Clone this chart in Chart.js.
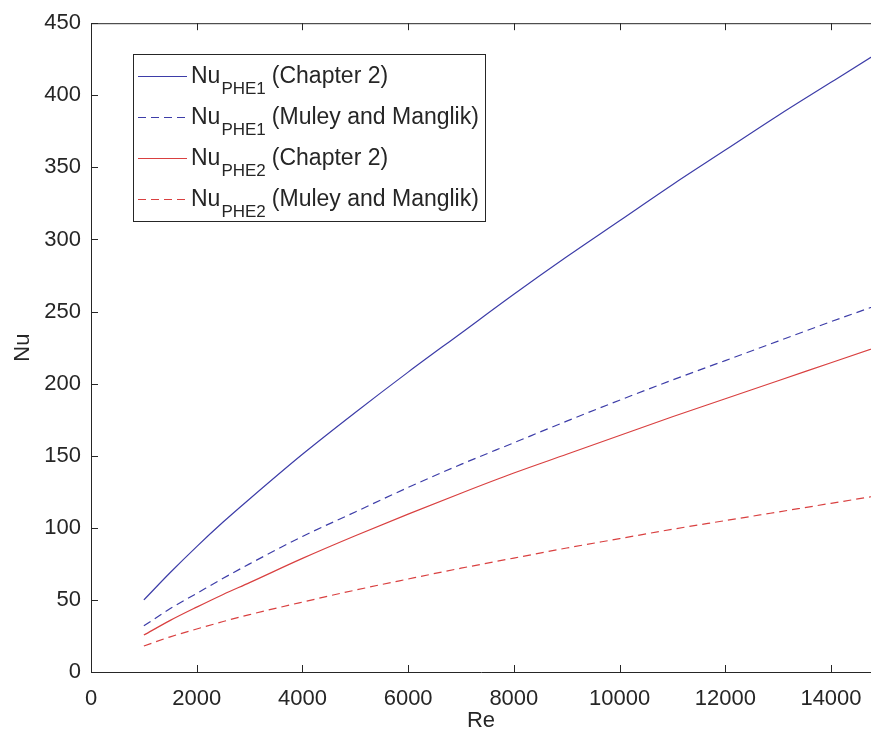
<!DOCTYPE html>
<html>
<head>
<meta charset="utf-8">
<title>Nu vs Re</title>
<script src="https://cdn.jsdelivr.net/npm/chart.js@4.4.1/dist/chart.umd.min.js"></script>
<style>
  html, body { margin: 0; padding: 0; background: #fff; }
  #wrap { width: 871px; height: 742px; position: relative; }
</style>
</head>
<body>
<div id="wrap"><canvas id="nuChart"></canvas></div>
<script>
// Reynolds numbers where the correlations were evaluated
const reValues = [1000, 1500, 2000, 2500, 3000, 4000, 5000, 6000, 7000, 8000, 9000, 10000, 11000, 12000, 13000, 14000, 15000];

// Nusselt number for each plate heat exchanger / correlation
const nuPhe1Chapter2 = [50, 69, 87, 104, 120, 151, 180, 208, 235, 262, 288, 313, 338, 362, 386, 409, 432];
const nuPhe1Muley    = [32, 44, 54.5, 65, 75, 94, 111, 128, 144, 159, 174, 188.5, 202.5, 216, 229.5, 243, 256];
const nuPhe2Chapter2 = [25.6, 35.8, 45, 53.8, 62, 78.8, 94.5, 109.5, 124, 138, 151, 164, 177, 189.5, 202, 214.5, 227];
const nuPhe2Muley    = [18, 24.4, 29.8, 35, 39.8, 48.5, 56.8, 64.5, 72, 79, 86, 92.5, 99, 105, 111, 117, 123];

// axis ticks
const reTicks = [0, 2000, 4000, 6000, 8000, 10000, 12000, 14000];
const nuTicks = [0, 50, 100, 150, 200, 250, 300, 350, 400, 450];

// legend text: "Nu" + subscript + note
const legendBase = 'Nu';
const legendSubs = ['PHE1', 'PHE1', 'PHE2', 'PHE2'];
const legendNotes = ['(Chapter 2)', '(Muley and Manglik)', '(Chapter 2)', '(Muley and Manglik)'];

const FONT = '"Liberation Sans", Arial, Helvetica, sans-serif';
const INK = '#262626';
const BLUE = '#3d3da8';
const RED = '#d94040';

function toPoints(ys) {
    return reValues.map((re, i) => ({ x: re, y: ys[i] }));
}

function series(label, ys, color, dashed) {
    return {
        label: label,
        data: toPoints(ys),
        borderColor: color,
        borderWidth: 1.2,
        borderDash: dashed ? [8, 5] : [],
        pointRadius: 0,
        fill: false,
        cubicInterpolationMode: 'monotone'
    };
}

// MATLAB-like frame: inward ticks, top border line, boxed legend with subscripts
const frameAndLegend = {
    id: 'frameAndLegend',
    afterDatasetsDraw(chart) {
        const { ctx, chartArea: a, scales: { x, y } } = chart;
        ctx.save();
        ctx.strokeStyle = INK;
        ctx.lineWidth = 1;
        ctx.setLineDash([]);
        ctx.beginPath();
        ctx.moveTo(a.left, a.top + 0.5);
        ctx.lineTo(a.right, a.top + 0.5);
        reTicks.forEach(v => {
            const px = Math.round(x.getPixelForValue(v)) + 0.5;
            ctx.moveTo(px, a.bottom);
            ctx.lineTo(px, a.bottom - 7);
            ctx.moveTo(px, a.top);
            ctx.lineTo(px, a.top + 7);
        });
        nuTicks.forEach(v => {
            const py = Math.round(y.getPixelForValue(v)) + 0.5;
            ctx.moveTo(a.left, py);
            ctx.lineTo(a.left + 7, py);
        });
        ctx.stroke();

        // legend
        const boxL = 133, boxT = 54, boxB = 221;
        const firstBase = 83, rowGap = 41;
        const mainFont = '23px ' + FONT;
        const subFont = '17px ' + FONT;
        let maxRight = 0;
        const rows = chart.data.datasets.map((ds, i) => {
            ctx.font = mainFont;
            const nuW = ctx.measureText(legendBase).width;
            ctx.font = subFont;
            const subW = ctx.measureText(legendSubs[i]).width;
            ctx.font = mainFont;
            const noteW = ctx.measureText(legendNotes[i]).width;
            const textX = 191;
            const subX = textX + nuW + 1;
            const noteX = subX + subW + 6;
            maxRight = Math.max(maxRight, noteX + noteW);
            return { ds, textX, subX, noteX, base: firstBase + rowGap * i };
        });
        const boxR = Math.round(maxRight + 6);
        ctx.fillStyle = '#fff';
        ctx.fillRect(boxL, boxT, boxR - boxL, boxB - boxT);
        ctx.strokeStyle = INK;
        ctx.strokeRect(boxL + 0.5, boxT + 0.5, boxR - boxL, boxB - boxT);

        rows.forEach((r, i) => {
            ctx.strokeStyle = r.ds.borderColor;
            ctx.lineWidth = r.ds.borderWidth;
            ctx.setLineDash(r.ds.borderDash);
            ctx.beginPath();
            ctx.moveTo(138, r.base - 6.5);
            ctx.lineTo(187, r.base - 6.5);
            ctx.stroke();
            ctx.setLineDash([]);
            ctx.fillStyle = INK;
            ctx.textBaseline = 'alphabetic';
            ctx.textAlign = 'left';
            ctx.font = mainFont;
            ctx.fillText(legendBase, r.textX, r.base);
            ctx.font = subFont;
            ctx.fillText(legendSubs[i], r.subX, r.base + 11);
            ctx.font = mainFont;
            ctx.fillText(legendNotes[i], r.noteX, r.base);
        });
        ctx.restore();
    }
};

new Chart(document.getElementById('nuChart'), {
    type: 'line',
    data: {
        datasets: [
            series('Nu PHE1 (Chapter 2)', nuPhe1Chapter2, BLUE, false),
            series('Nu PHE1 (Muley and Manglik)', nuPhe1Muley, BLUE, true),
            series('Nu PHE2 (Chapter 2)', nuPhe2Chapter2, RED, false),
            series('Nu PHE2 (Muley and Manglik)', nuPhe2Muley, RED, true)
        ]
    },
    options: {
        responsive: true,
        maintainAspectRatio: false,
        animation: false,
        layout: { padding: { left: 0, top: 22, right: 0, bottom: 0 } },
        plugins: {
            legend: { display: false },
            tooltip: { enabled: false }
        },
        scales: {
            x: {
                type: 'linear',
                min: 0,
                max: 14757,
                grid: { display: false, drawTicks: false },
                border: { display: true, color: INK, width: 1 },
                afterBuildTicks: s => { s.ticks = reTicks.map(v => ({ value: v })); },
                afterFit: s => {
                    s.height = 70;
                    // the axis runs off the right edge, so no room is kept for the last label
                    s.paddingLeft = 0;
                    s.paddingRight = 0;
                },
                ticks: {
                    padding: 14,
                    maxRotation: 0,
                    color: INK,
                    font: { family: FONT, size: 22 },
                    callback: v => String(v)
                },
                title: {
                    display: true,
                    text: 'Re',
                    color: INK,
                    font: { family: FONT, size: 22 },
                    padding: { top: 0, bottom: 8 }
                }
            },
            y: {
                min: 0,
                max: 450,
                grid: { display: false, drawTicks: false },
                border: { display: true, color: INK, width: 1 },
                afterBuildTicks: s => { s.ticks = nuTicks.map(v => ({ value: v })); },
                afterFit: s => { s.width = 91; },
                ticks: {
                    padding: 10,
                    color: INK,
                    font: { family: FONT, size: 22 },
                    callback: v => String(v)
                },
                title: {
                    display: true,
                    text: 'Nu',
                    color: INK,
                    font: { family: FONT, size: 22 },
                    padding: { top: 10, bottom: 0 }
                }
            }
        }
    },
    plugins: [frameAndLegend]
});
</script>
</body>
</html>
